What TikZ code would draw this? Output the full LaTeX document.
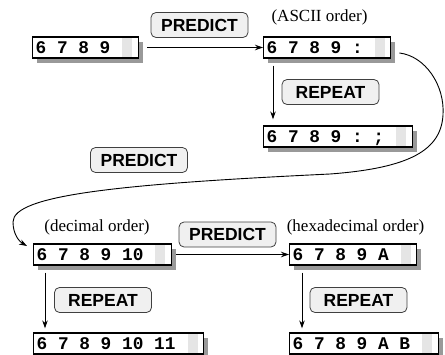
\documentclass[tikz,border=0pt]{standalone}
\usepackage{fontspec}
\setmainfont{Liberation Serif}
\setsansfont{Liberation Sans}
\setmonofont{Liberation Mono}
\usetikzlibrary{arrows.meta,shadows}
\begin{document}
\begin{tikzpicture}[x=1pt,y=-1pt,
  tape/.style={draw, line width=1.3pt, fill=white, anchor=west,
    font=\ttfamily\bfseries\fontsize{17.8}{20}\selectfont,
    minimum height=21pt, inner ysep=0pt, inner xsep=3pt,
    text height=11pt, text depth=0pt,
    drop shadow={shadow xshift=4.5pt, shadow yshift=-4.5pt, fill=black!40, opacity=1},
    path picture={\fill[black!10] ([xshift=-16pt]path picture bounding box.north east)
      rectangle ([xshift=-6pt]path picture bounding box.south east);}},
  lab/.style={draw=black!75, line width=0.8pt, fill=black!6, rounded corners=5pt,
    font=\sffamily\bfseries\fontsize{17.5}{20}\selectfont,
    minimum width=97pt, minimum height=25pt, inner sep=0pt},
  note/.style={font=\fontsize{17}{20}\selectfont, inner sep=0pt},
  arr/.style={line width=0.9pt, -{Stealth[length=8pt,width=5.5pt]}}
]
\useasboundingbox (0,0) rectangle (445,354);

% tapes
\node[tape] (b1) at (32,47.5) {6 7 8 9\hspace*{25pt}};
\node[tape] (b2) at (263,47.5) {6 7 8 9 :\hspace*{25pt}};
\node[tape] (b3) at (263,136.5) {6 7 8 9 : ;\hspace*{25pt}};
\node[tape] (b4) at (33,254.5) {6 7 8 9 10\hspace*{25pt}};
\node[tape] (b5) at (289,254.5) {6 7 8 9 A\hspace*{25pt}};
\node[tape] (b6) at (33,343.5) {6 7 8 9 10 11\hspace*{25pt}};
\node[tape] (b7) at (289,343.5) {6 7 8 9 A B\hspace*{25pt}};

% labels
\node[lab] (p1) at (199.5,25) {PREDICT};
\node[lab] (r1) at (330.5,92) {REPEAT};
\node[lab] (p2) at (139,160) {PREDICT};
\node[lab] (p3) at (227.5,234.5) {PREDICT};
\node[lab] (r2) at (103,300) {REPEAT};
\node[lab] (r3) at (358.5,300) {REPEAT};

% notes
\node[note] (n1) at (319.5,17) {(ASCII order)};
\node[note] (n2) at (97,227) {(decimal order)};
\node[note] (n3) at (355.5,227) {(hexadecimal order)};

% connectors
\draw[arr] ([xshift=8pt]b1.east) -- (b2.west);
\draw[arr] ([xshift=10pt,yshift=-7pt]b2.south west) -- ([xshift=10pt,yshift=6pt]b3.north west);
\draw[arr] ([xshift=8pt,yshift=-5.5pt]b2.east)
  .. controls (425,56) and (445,85) .. (443,115)
  .. controls (441,150) and (410,168) .. (330,174)
  .. controls (120,184) and (13,195) .. (13,222)
  .. controls (13,235) and (20,242) .. ([xshift=-6pt,yshift=8.5pt]b4.west);
\draw[arr] ([xshift=4pt]b4.east) -- (b5.west);
\draw[arr] ([xshift=12pt,yshift=-7pt]b4.south west) -- ([xshift=12pt,yshift=4pt]b6.north west);
\draw[arr] ([xshift=13pt,yshift=-7pt]b5.south west) -- ([xshift=13pt,yshift=4pt]b7.north west);
\end{tikzpicture}
\end{document}
